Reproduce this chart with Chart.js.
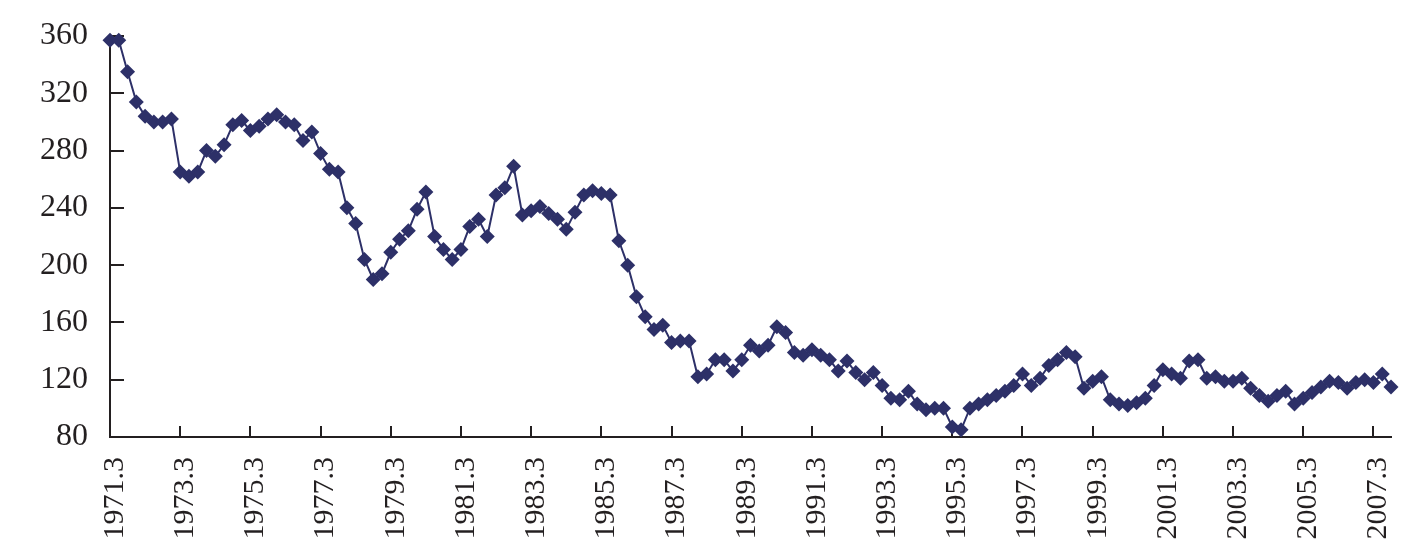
<!DOCTYPE html>
<html>
<head>
<meta charset="utf-8">
<script src="https://cdn.jsdelivr.net/npm/chart.js@4"></script>
<style>
  body { margin: 0; background: #fff; }
</style>
</head>
<body>
<canvas id="chart" width="1417" height="556"></canvas>
<script>
// quarterly categories, 1971.3 .. 2007.9
var firstYear = 1971;
var lastYear = 2007;
var months = ["3", "6", "9", "12"];
var lastMonth = "9";

var labels = [];
for (var y = firstYear; y <= lastYear; y++) {
  for (var m = 0; m < months.length; m++) {
    labels.push(y + "." + months[m]);
    if (y === lastYear && months[m] === lastMonth) break;
  }
}

// series values
var values = [
  357, 357, 335, 314, 304, 300, 300, 302,
  265, 262, 265, 280, 276, 284, 298, 301,
  294, 297, 302, 305, 300, 298, 287, 293,
  278, 267, 265, 240, 229, 204, 190, 194,
  209, 218, 224, 239, 251, 220, 211, 204,
  211, 227, 232, 220, 249, 254, 269, 235,
  238, 241, 236, 232, 225, 237, 249, 252,
  250, 249, 217, 200, 178, 164, 155, 158,
  146, 147, 147, 122, 124, 134, 134, 126,
  134, 144, 140, 144, 157, 153, 139, 137,
  141, 137, 134, 126, 133, 125, 120, 125,
  116, 107, 106, 112, 103, 99, 100, 100,
  87, 85, 100, 103, 106, 109, 112, 116,
  124, 116, 121, 130, 134, 139, 136, 114,
  119, 122, 106, 103, 102, 104, 107, 116,
  127, 124, 121, 133, 134, 121, 122, 119,
  119, 121, 114, 109, 105, 109, 112, 103,
  107, 111, 115, 119, 118, 114, 118, 120,
  118, 124, 115
];

var yTicks = [80, 120, 160, 200, 240, 280, 320, 360];
var labelEvery = 8;

var navy = "#2d3068";
var ink = "#231f20";

// tick marks pointing into the plot
var innerTicks = {
  id: "innerTicks",
  beforeDatasetsDraw: function(chart) {
    var ctx = chart.ctx;
    var xs = chart.scales.x;
    var ys = chart.scales.y;
    var area = chart.chartArea;
    ctx.save();
    ctx.strokeStyle = ink;
    ctx.lineWidth = 2;
    ctx.beginPath();
    for (var i = 0; i < labels.length; i += labelEvery) {
      var px = Math.round(xs.getPixelForValue(i));
      ctx.moveTo(px, area.bottom);
      ctx.lineTo(px, area.bottom - 11);
    }
    yTicks.forEach(function(v) {
      var py = Math.round(ys.getPixelForValue(v));
      ctx.moveTo(area.left, py);
      ctx.lineTo(area.left + 14, py);
    });
    ctx.stroke();
    ctx.restore();
  }
};

var ctx = document.getElementById("chart").getContext("2d");
new Chart(ctx, {
  type: "line",
  data: {
    labels: labels,
    datasets: [{
      data: values,
      borderColor: navy,
      borderWidth: 2,
      backgroundColor: navy,
      pointStyle: "rectRot",
      pointRadius: 7.5,
      pointBackgroundColor: navy,
      pointBorderWidth: 0,
      tension: 0,
      clip: false
    }]
  },
  options: {
    responsive: false,
    animation: false,
    layout: { padding: { top: 36, right: 26, left: 0, bottom: 0 } },
    plugins: {
      legend: { display: false },
      tooltip: { enabled: false }
    },
    scales: {
      x: {
        offset: false,
        afterFit: function(scale) {
          scale.height = 119;
          scale.paddingLeft = 0;
          scale.paddingRight = 0;
        },
        grid: { display: true, drawOnChartArea: false, drawTicks: false },
        border: { display: true, color: ink, width: 2 },
        ticks: {
          autoSkip: false,
          minRotation: 90,
          maxRotation: 90,
          padding: 20,
          labelOffset: 5,
          color: ink,
          font: { family: "'Liberation Serif', serif", size: 30 },
          callback: function(val, idx) {
            return idx % labelEvery === 0 ? labels[idx] : "";
          }
        }
      },
      y: {
        min: yTicks[0],
        max: yTicks[yTicks.length - 1],
        afterFit: function(scale) {
          scale.width = 110;
          scale.paddingTop = 0;
          scale.paddingBottom = 0;
        },
        grid: { display: true, drawOnChartArea: false, drawTicks: false },
        border: { display: true, color: ink, width: 2 },
        ticks: {
          stepSize: 40,
          padding: 22,
          color: ink,
          font: { family: "'Liberation Serif', serif", size: 32 }
        }
      }
    }
  },
  plugins: [innerTicks]
});
</script>
</body>
</html>
